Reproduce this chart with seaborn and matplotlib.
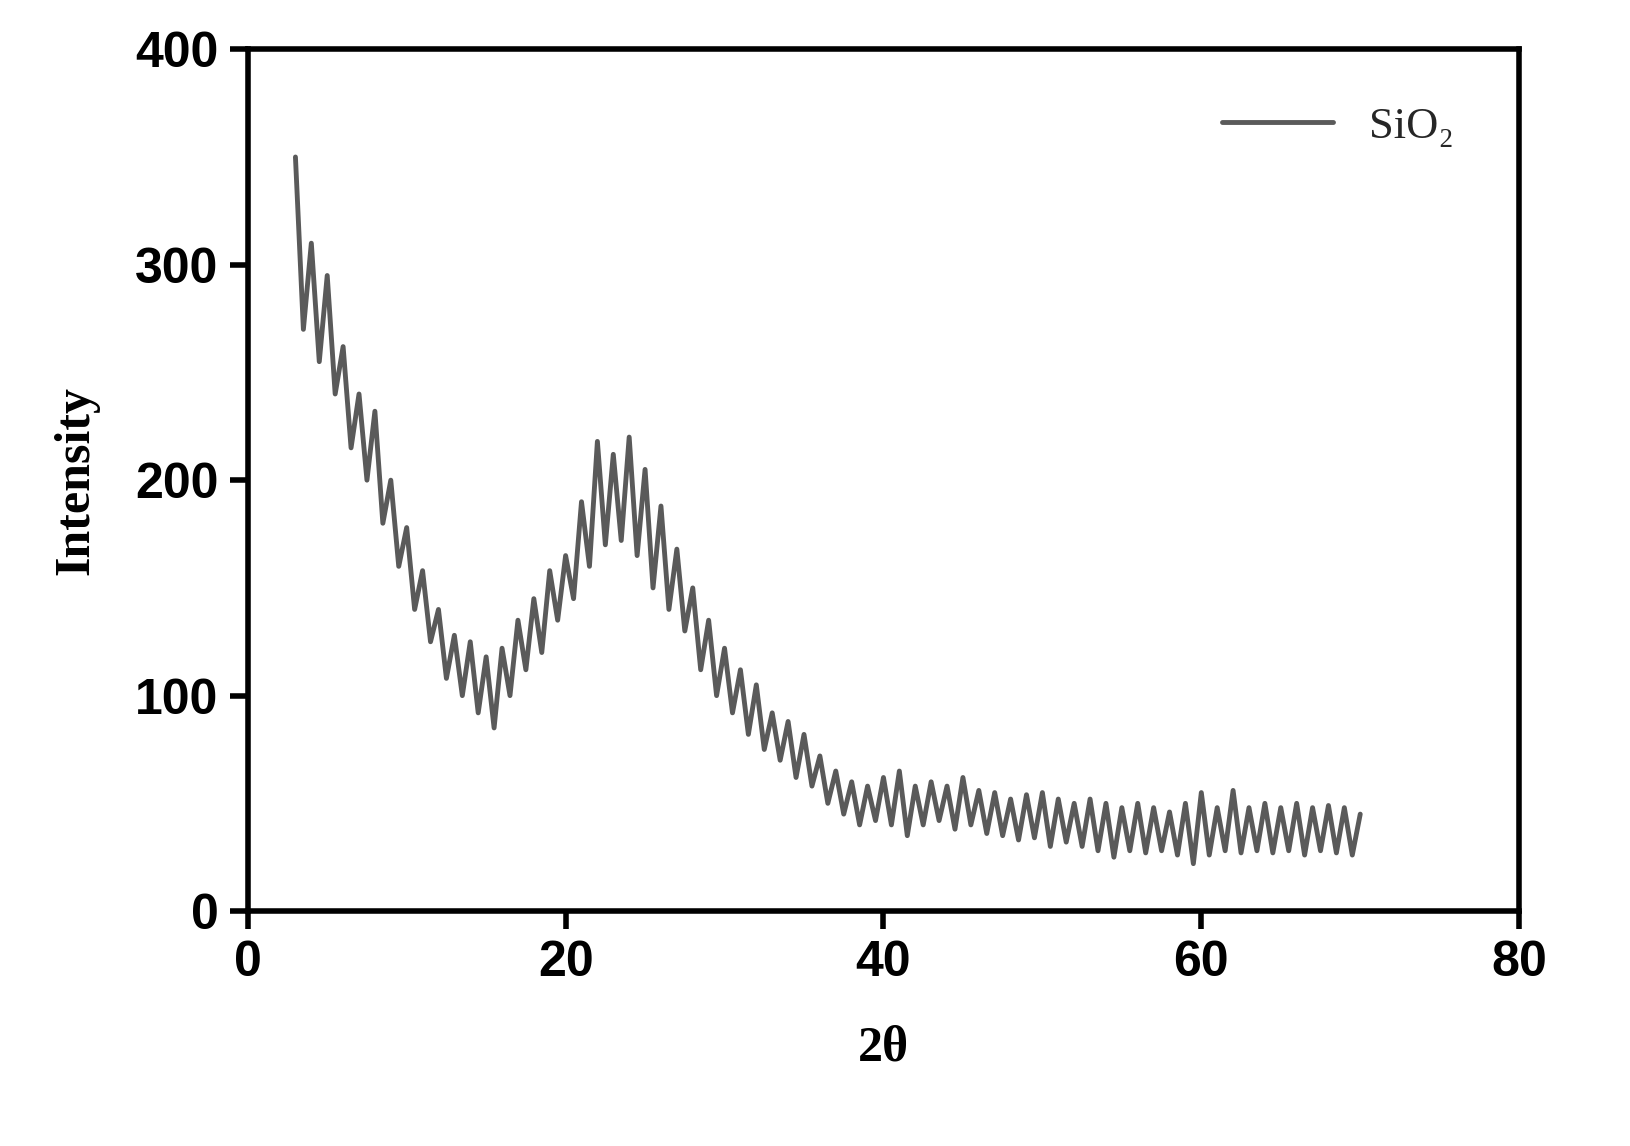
import numpy as np
import matplotlib
matplotlib.use("Agg")
import matplotlib.pyplot as plt
import seaborn as sns
import pandas as pd

sns.set_style("ticks")

two_theta_start, two_theta_stop, two_theta_step = 3.0, 70.0, 0.5
intensity = [350, 270, 310, 255, 295, 240, 262, 215, 240, 200, 232, 180, 200, 160, 178, 140,
             158, 125, 140, 108, 128, 100, 125, 92, 118, 85, 122, 100, 135, 112, 145, 120,
             158, 135, 165, 145, 190, 160, 218, 170, 212, 172, 220, 165, 205, 150, 188, 140,
             168, 130, 150, 112, 135, 100, 122, 92, 112, 82, 105, 75, 92, 70, 88, 62, 82, 58,
             72, 50, 65, 45, 60, 40, 58, 42, 62, 40, 65, 35, 58, 40, 60, 42, 58, 38, 62, 40,
             56, 36, 55, 35, 52, 33, 54, 34, 55, 30, 52, 32, 50, 30, 52, 28, 50, 25, 48, 28,
             50, 27, 48, 28, 46, 26, 50, 22, 55, 26, 48, 28, 56, 27, 48, 28, 50, 27, 48, 28,
             50, 26, 48, 28, 49, 27, 48, 26, 45]
two_theta = np.arange(two_theta_start, two_theta_stop + 0.01, two_theta_step)[:len(intensity)]
df = pd.DataFrame({"2θ": two_theta, "Intensity": intensity})

fig = plt.figure(figsize=(16.3, 11.46), dpi=100)
ax = fig.add_axes([0.152, 0.205, 0.78, 0.752])
sns.lineplot(data=df, x="2θ", y="Intensity", ax=ax, color="#5a5a5a", linewidth=3.5, label="SiO₂")

ax.set_xlim(0, 80)
ax.set_ylim(0, 400)
ax.set_xticks([0, 20, 40, 60, 80])
ax.set_yticks([0, 100, 200, 300, 400])
for s in ax.spines.values():
    s.set_linewidth(4)
    s.set_color("black")
ax.tick_params(width=4, length=13, direction="out", labelsize=36, pad=8, colors="black")
for lab in ax.get_xticklabels() + ax.get_yticklabels():
    lab.set_fontweight("bold")
    lab.set_family("Liberation Sans")
ax.set_xlabel("2θ", fontsize=36, fontweight="bold", family="Liberation Serif", labelpad=28, color="black")
ax.set_ylabel("Intensity", fontsize=36, fontweight="bold", family="Liberation Serif", labelpad=26, color="black")
leg = ax.legend(loc="upper right", frameon=False, prop={"family": "Liberation Serif", "size": 32},
                handlelength=2.5, bbox_to_anchor=(0.98, 0.98))
fig.savefig("out.png", dpi=100)
